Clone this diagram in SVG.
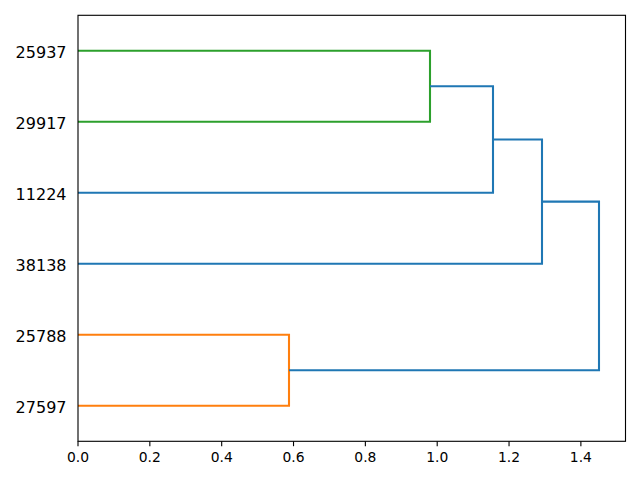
<svg xmlns="http://www.w3.org/2000/svg" width="640" height="480" viewBox="0 0 640 480">
<style>
.l{fill:none;stroke-width:2.08;stroke-linecap:butt;stroke-linejoin:miter}
.c0{stroke:#1f77b4}.c1{stroke:#ff7f0e}.c2{stroke:#2ca02c}
.yl{font-family:"DejaVu Sans",sans-serif;font-size:16px;text-anchor:end;fill:#000}
.xl{font-family:"DejaVu Sans",sans-serif;font-size:13.89px;text-anchor:middle;fill:#000}
.tk{stroke:#000;stroke-width:1.11}
</style>
<rect width="640" height="480" fill="#fff"/>
<g id="connectors">
<path class="l c2" d="M78,50.7H430V121.7H78"/>
<path class="l c1" d="M78,334.7H289V405.7H78"/>
<path class="l c0" d="M430,86.2H493V192.7H78"/>
<path class="l c0" d="M493,139.5H542V263.7H78"/>
<path class="l c0" d="M542,201.6H599V370.2H289"/>
</g>
<g id="axes">
<rect x="78" y="15.3" width="547.5" height="426" fill="none" stroke="#000" stroke-width="1.11"/>
<g class="tk">
<line x1="78" y1="441.3" x2="78" y2="446.2"/>
<line x1="149.84" y1="441.3" x2="149.84" y2="446.2"/>
<line x1="221.68" y1="441.3" x2="221.68" y2="446.2"/>
<line x1="293.52" y1="441.3" x2="293.52" y2="446.2"/>
<line x1="365.36" y1="441.3" x2="365.36" y2="446.2"/>
<line x1="437.2" y1="441.3" x2="437.2" y2="446.2"/>
<line x1="509.04" y1="441.3" x2="509.04" y2="446.2"/>
<line x1="580.88" y1="441.3" x2="580.88" y2="446.2"/>
</g>
<text class="xl" x="78" y="462">0.0</text>
<text class="xl" x="149.84" y="462">0.2</text>
<text class="xl" x="221.68" y="462">0.4</text>
<text class="xl" x="293.52" y="462">0.6</text>
<text class="xl" x="365.36" y="462">0.8</text>
<text class="xl" x="437.2" y="462">1.0</text>
<text class="xl" x="509.04" y="462">1.2</text>
<text class="xl" x="580.88" y="462">1.4</text>
</g>
<g id="leaf-25937"><text class="yl" x="66.5" y="57.5">25937</text></g>
<g id="leaf-29917"><text class="yl" x="66.5" y="128.5">29917</text></g>
<g id="leaf-11224"><text class="yl" x="66.5" y="199.5">11224</text></g>
<g id="leaf-38138"><text class="yl" x="66.5" y="270.5">38138</text></g>
<g id="leaf-25788"><text class="yl" x="66.5" y="341.5">25788</text></g>
<g id="leaf-27597"><text class="yl" x="66.5" y="412.5">27597</text></g>
</svg>
